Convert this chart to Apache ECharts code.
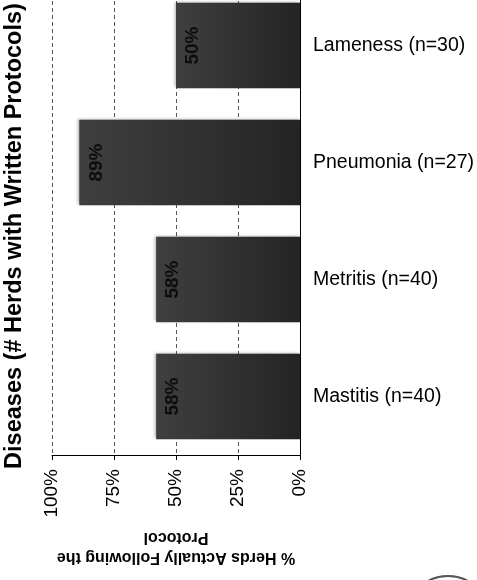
<!DOCTYPE html>
<html>
<head>
<meta charset="utf-8">
<script src="https://cdn.jsdelivr.net/npm/echarts@6/dist/echarts.min.js"></script>
<style>html,body{margin:0;padding:0;background:#fff;overflow:hidden;}#chart{width:477px;height:593px;margin-top:-13px;}</style>
</head>
<body>
<div id="chart"></div>
<script>
const categories = ['Lameness (n=30)', 'Pneumonia (n=27)', 'Metritis (n=40)', 'Mastitis (n=40)'];
const followingPct = [50, 89, 58, 58];
const yTitle = 'Diseases (# Herds with Written Protocols)';
const xTitle = '% Herds Actually Following the\nProtocol';

const OFF = 13; // chart div is shifted up by 13px
const chart = echarts.init(document.getElementById('chart'), null, {renderer: 'canvas'});
chart.setOption({
  animation: false,
  grid: {left: 52, right: 177, top: 0, bottom: 125, containLabel: false},
  xAxis: {
    type: 'value', min: 0, max: 100, interval: 25, inverse: true,
    axisLine: {show: true, lineStyle: {color: '#000', width: 1}},
    axisTick: {show: true, length: 5, lineStyle: {color: '#000'}},
    axisLabel: {rotate: 90, margin: 14, formatter: '{value}%', color: '#000',
      fontFamily: 'Liberation Sans, Arial, sans-serif', fontSize: 19},
    splitLine: {show: true, lineStyle: {color: '#555', type: [4, 3], width: 1}}
  },
  yAxis: {
    type: 'category', data: categories, inverse: true, position: 'right',
    axisLine: {show: true, lineStyle: {color: '#000', width: 1}},
    axisTick: {show: false},
    axisLabel: {margin: 13, color: '#000', fontFamily: 'Liberation Sans, Arial, sans-serif', fontSize: 19.5}
  },
  series: [{
    type: 'bar', data: followingPct, barWidth: '73%',
    itemStyle: {
      color: new echarts.graphic.LinearGradient(0, 0, 1, 0, [
        {offset: 0, color: '#3f3f3f'}, {offset: 1, color: '#242424'}
      ]),
      shadowBlur: 3, shadowColor: 'rgba(0,0,0,0.35)', shadowOffsetX: -1, shadowOffsetY: -1
    },
    label: {
      show: true, position: 'insideLeft', distance: 17, rotate: 90,
      align: 'center', verticalAlign: 'middle',
      formatter: '{c}%', color: '#0d0d0d', fontWeight: 'bold',
      fontFamily: 'Liberation Sans, Arial, sans-serif', fontSize: 19
    }
  }],
  graphic: [
    {type: 'text', x: 15, y: 236 + OFF, rotation: Math.PI / 2,
      style: {text: yTitle, fill: '#000', font: 'bold 23.5px "Liberation Sans", Arial, sans-serif',
        textAlign: 'center', textVerticalAlign: 'middle'}},
    {type: 'text', x: 176, y: 547 + OFF, rotation: Math.PI,
      style: {text: xTitle, fill: '#000', font: 'bold 16px "Liberation Sans", Arial, sans-serif',
        lineHeight: 20, textAlign: 'center', textVerticalAlign: 'middle'}},
    {type: 'circle', shape: {cx: 448, cy: 618 + OFF, r: 42},
      style: {fill: 'none', stroke: '#555', lineWidth: 2}}
  ]
});
</script>
</body>
</html>
